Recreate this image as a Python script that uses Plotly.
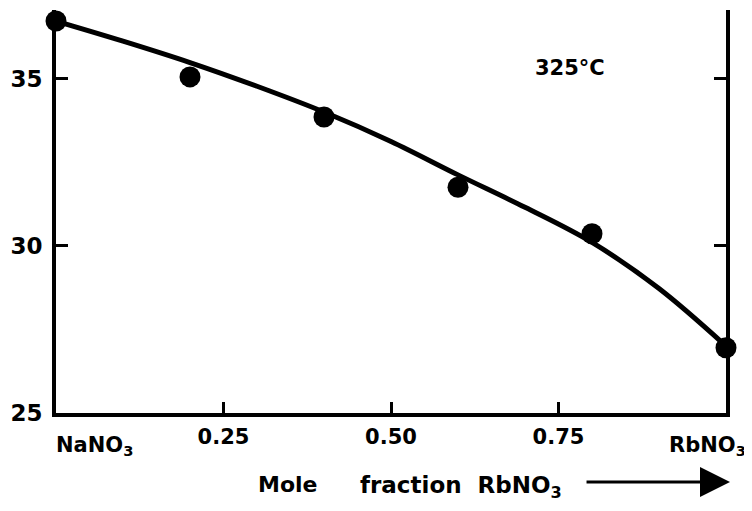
import plotly.graph_objects as go

# Measured points (mole fraction RbNO3 vs property value)
x_points = [0.0, 0.2, 0.4, 0.6, 0.8, 1.0]
y_points = [36.72, 35.05, 33.85, 31.75, 30.36, 26.95]

# Smooth fitted curve
x_curve = [0.0, 0.1, 0.2, 0.3, 0.4, 0.5, 0.6, 0.7, 0.8, 0.9, 1.0]
y_curve = [36.72, 36.12, 35.48, 34.77, 34.00, 33.12, 32.12, 31.15, 30.10, 28.72, 27.00]

x_tickvals = [0, 0.25, 0.5, 0.75, 1.0]
x_ticktext = ["", "0.25", "0.50", "0.75", ""]
x_end_labels = ["NaNO<sub>3</sub>", "RbNO<sub>3</sub>"]
y_tickvals = [25, 30, 35]
y_ticktext = ["25", "30", "35"]

FONT = "DejaVu Sans"

fig = go.Figure()
fig.add_trace(go.Scatter(
    x=x_curve, y=y_curve, mode="lines",
    line=dict(color="black", width=5, shape="spline"),
    showlegend=False, hoverinfo="skip", cliponaxis=False,
))
fig.add_trace(go.Scatter(
    x=x_points, y=y_points, mode="markers",
    marker=dict(color="black", size=21),
    showlegend=False, cliponaxis=False,
))

# the page body has an 8px margin; size the figure so it fits the 752x511 window
fig.update_layout(
    width=744, height=503,
    margin=dict(l=48, r=26, t=2, b=98),
    paper_bgcolor="white", plot_bgcolor="white",
    font=dict(family=FONT, color="black", size=21),
    xaxis=dict(
        range=[0, 1], tickvals=x_tickvals, ticktext=x_ticktext,
        showgrid=False, zeroline=False,
        showline=True, linecolor="black", linewidth=4,
        ticks="inside", ticklen=11, tickwidth=3, tickcolor="black",
        tickfont=dict(family=FONT, size=21, color="black", weight="bold"),
        ticklabelstandoff=2,
    ),
    yaxis=dict(
        range=[25, 37.05], tickvals=y_tickvals, ticktext=y_ticktext,
        showgrid=False, zeroline=False,
        showline=True, linecolor="black", linewidth=4, mirror="ticks",
        ticks="inside", ticklen=12, tickwidth=3, tickcolor="black",
        tickfont=dict(family=FONT, size=23, color="black", weight="bold"),
        ticklabelstandoff=5,
    ),
    annotations=[
        dict(text="<b>" + x_end_labels[0] + "</b>", xref="x", yref="paper",
             x=0, y=-0.045, xanchor="left", yanchor="top", xshift=-2,
             showarrow=False, font=dict(family=FONT, size=21, color="black")),
        dict(text="<b>" + x_end_labels[1] + "</b>", xref="x", yref="paper",
             x=1, y=-0.045, xanchor="right", yanchor="top", xshift=22,
             showarrow=False, font=dict(family=FONT, size=21, color="black")),
        dict(text="<b>325°C</b>", xref="paper", yref="paper",
             x=0.767, y=0.856, xanchor="center", yanchor="middle", showarrow=False,
             font=dict(family=FONT, size=21, color="black")),
        dict(text="<b>Mole</b>", xref="paper", yref="paper",
             x=0.298, y=-0.177, xanchor="left", yanchor="middle", showarrow=False,
             font=dict(family=FONT, size=22, color="black")),
        dict(text="<b>fraction  RbNO<sub>3</sub></b>", xref="paper", yref="paper",
             x=0.451, y=-0.183, xanchor="left", yanchor="middle", showarrow=False,
             font=dict(family=FONT, size=23, color="black")),
        dict(text="", xref="paper", yref="paper",
             x=1.006, y=-0.171, ax=-145, ay=0,
             showarrow=True, arrowhead=2, arrowsize=2, arrowwidth=3,
             arrowcolor="black"),
    ],
)

fig.write_html("out.html")
